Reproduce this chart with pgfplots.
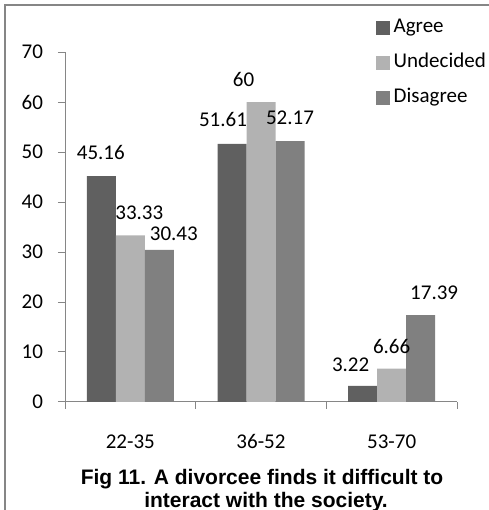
\documentclass[border=0pt]{standalone}
\usepackage{fontspec}
\setmainfont{Carlito}
\newfontfamily\capfont{Liberation Sans}
\usepackage{pgfplots}
\usepackage{pgfplotstable}
\pgfplotsset{compat=1.18}

\definecolor{agreec}{RGB}{96,96,96}
\definecolor{undecc}{RGB}{178,178,178}
\definecolor{disac}{RGB}{128,128,128}
\definecolor{axgray}{RGB}{134,134,134}

% x = group, y = percent, dx/dy = label offset (bp), lab = label text
\pgfplotstableread{
x y dx dy lab
0 45.16 -0.5 24 45.16
1 51.61 -9 24 51.61
2 3.22 -12 21 3.22
}\agree
\pgfplotstableread{
x y dx dy lab
0 33.33 9 23 33.33
1 60 -17.5 23 60
2 6.66 0 22 6.66
}\undecided
\pgfplotstableread{
x y dx dy lab
0 30.43 14.5 16 30.43
1 52.17 0 23 52.17
2 17.39 13.5 22 17.39
}\disagree

\begin{document}
\begin{tikzpicture}
\path[use as bounding box] (0,0) rectangle (489bp,510bp);
\draw[axgray, line width=2bp] (5bp,-20bp) -- (5bp,505bp) -- (520bp,505bp);
\begin{axis}[
	at={(65bp,108bp)}, anchor=south west,
	scale only axis,
	width=392bp, height=350bp,
	ybar=0pt, bar width=29bp,
	xmin=-0.5, xmax=2.5,
	ymin=0, ymax=70,
	ytick={0,10,...,70},
	xtick={-0.5,0.5,1.5,2.5},
	xticklabels={},
	extra x ticks={0,1,2},
	extra x tick labels={22-35,36-52,53-70},
	extra x tick style={major tick length=0pt,
		tick label style={anchor=center, text height=14bp, text depth=0bp, yshift=-39bp}},
	axis x line*=bottom, axis y line*=left,
	axis line style={axgray, line width=1bp, -},
	tick style={axgray, line width=1bp},
	tick align=outside, major tick length=7bp,
	font=\fontsize{21bp}{25bp}\selectfont,
	tick label style={font=\fontsize{21bp}{25bp}\selectfont},
	/pgf/number format/assume math mode=true,
	yticklabel style={xshift=-11.5bp},
	point meta=explicit symbolic,
	nodes near coords={\pgfplotspointmeta},
	visualization depends on={\thisrow{dx} \as \dx},
	visualization depends on={\thisrow{dy} \as \dy},
	nodes near coords style={anchor=center, xshift=\dx bp, yshift=\dy bp,
		font=\fontsize{21bp}{25bp}\selectfont, inner sep=0pt},
	legend style={at={(rel axis cs:0.792,1.096)}, anchor=north west,
		draw=none, fill=none, inner sep=0pt, row sep=16bp,
		nodes={text height=14bp, text depth=5bp, inner sep=0pt, anchor=west},
		font=\fontsize{21bp}{25bp}\selectfont,
		/tikz/every odd column/.style={column sep=4bp}},
	legend image code/.code={\fill[#1] (0bp,-7bp) rectangle (14bp,7bp);},
	legend cell align=left,
	clip=false,
]
\addplot[fill=agreec, draw=none] table[x=x, y=y, meta=lab] {\agree};
\addlegendentry{Agree}
\addplot[fill=undecc, draw=none] table[x=x, y=y, meta=lab] {\undecided};
\addlegendentry{Undecided}
\addplot[fill=disac, draw=none] table[x=x, y=y, meta=lab] {\disagree};
\addlegendentry{Disagree}
\end{axis}
\node[anchor=base, font=\capfont\bfseries\fontsize{21bp}{25bp}\selectfont]
	at (262bp,26bp) {Fig 11. A divorcee finds it difficult to};
\node[anchor=base, font=\capfont\bfseries\fontsize{21bp}{25bp}\selectfont]
	at (266bp,3bp) {interact with the society.};
\end{tikzpicture}
\end{document}
